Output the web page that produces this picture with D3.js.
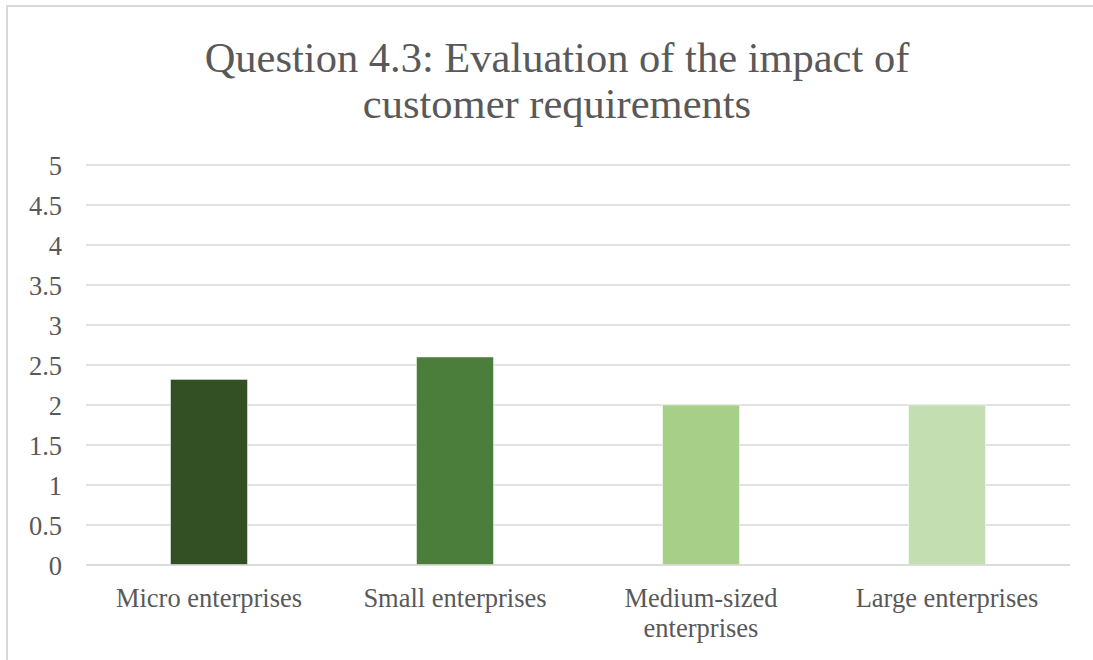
<!DOCTYPE html>
<html>
<head>
<meta charset="utf-8">
<script src="https://cdn.jsdelivr.net/npm/d3@7"></script>
<style>
  html, body { margin: 0; padding: 0; background: #fff; }
  svg { display: block; }
  text { font-family: "Liberation Serif", "Times New Roman", serif; fill: #595959; }
</style>
</head>
<body>
<svg id="chart" width="1093" height="660"></svg>
<script>
// Survey results: average rating of customer-requirement impact by enterprise size
const categories = ["Micro enterprises", "Small enterprises", "Medium-sized enterprises", "Large enterprises"];
const values = [2.32, 2.6, 2.0, 2.0];
const barColors = ["#334f24", "#4a7e3a", "#a7cf88", "#c3dfb1"];
const yTicks = [0, 0.5, 1, 1.5, 2, 2.5, 3, 3.5, 4, 4.5, 5];
const titleLines = ["Question 4.3: Evaluation of the impact of", "customer requirements"];

const svg = d3.select("#chart");
const W = 1093, H = 660;
const plot = { left: 86, right: 1070, top: 165, bottom: 565 };

// chart frame
svg.append("rect")
  .attr("x", 7).attr("y", 6)
  .attr("width", 1200).attr("height", 700)
  .attr("fill", "#fff")
  .attr("stroke", "#d9d9d9").attr("stroke-width", 2);

// title
svg.append("text")
  .attr("text-anchor", "middle")
  .attr("font-size", 42.5)
  .selectAll("tspan")
  .data(titleLines)
  .join("tspan")
  .attr("x", 557)
  .attr("y", (d, i) => 72 + i * 46)
  .text(d => d);

const x = d3.scaleBand()
  .domain(categories)
  .range([plot.left, plot.right])
  .paddingInner(0.687)
  .paddingOuter(0.3435);

const y = d3.scaleLinear()
  .domain([0, 5])
  .range([plot.bottom, plot.top]);

// horizontal gridlines
svg.append("g")
  .selectAll("line")
  .data(yTicks)
  .join("line")
  .attr("x1", plot.left).attr("x2", plot.right)
  .attr("y1", d => y(d)).attr("y2", d => y(d))
  .attr("stroke", "#d9d9d9").attr("stroke-width", 1.5);

// y axis labels
const yAxis = d3.axisLeft(y)
  .tickValues(yTicks)
  .tickFormat(d3.format("~g"))
  .tickSize(0)
  .tickPadding(24);
const gy = svg.append("g")
  .attr("transform", `translate(${plot.left},0)`)
  .call(yAxis);
gy.select(".domain").remove();
gy.selectAll("text")
  .attr("font-size", 26.5)
  .attr("fill", "#595959")
  .attr("font-family", "'Liberation Serif', 'Times New Roman', serif")
  .attr("dy", "0.34em");

// bars
svg.append("g")
  .selectAll("rect")
  .data(categories)
  .join("rect")
  .attr("x", d => x(d))
  .attr("width", x.bandwidth())
  .attr("y", (d, i) => y(values[i]))
  .attr("height", (d, i) => y(0) - y(values[i]))
  .attr("fill", (d, i) => barColors[i])
  .attr("stroke", "#ffffff").attr("stroke-width", 0.8).attr("stroke-opacity", 0.6);

// baseline
svg.append("line")
  .attr("x1", plot.left).attr("x2", plot.right)
  .attr("y1", y(0)).attr("y2", y(0))
  .attr("stroke", "#d9d9d9").attr("stroke-width", 1.5);

// category labels, wrapped to the band width
const xAxis = d3.axisBottom(x).tickSize(0).tickPadding(0);
const gx = svg.append("g")
  .attr("transform", `translate(0,${plot.bottom})`)
  .call(xAxis);
gx.select(".domain").remove();
gx.selectAll("text")
  .attr("font-size", 26.5)
  .attr("fill", "#595959")
  .attr("font-family", "'Liberation Serif', 'Times New Roman', serif")
  .attr("y", 0).attr("dy", null)
  .each(function (d) {
    const t = d3.select(this);
    const words = d.split(" ");
    t.text(null);
    const maxW = x.step() - 10;
    let lines = [], cur = [];
    const probe = t.append("tspan");
    words.forEach(w => {
      const trial = cur.concat(w).join(" ");
      probe.text(trial);
      if (probe.node().getComputedTextLength() > maxW && cur.length) {
        lines.push(cur.join(" "));
        cur = [w];
      } else {
        cur.push(w);
      }
    });
    lines.push(cur.join(" "));
    probe.remove();
    lines.forEach((ln, i) => {
      t.append("tspan")
        .attr("x", 0)
        .attr("y", 42 + i * 30)
        .text(ln);
    });
  });
</script>
</body>
</html>
